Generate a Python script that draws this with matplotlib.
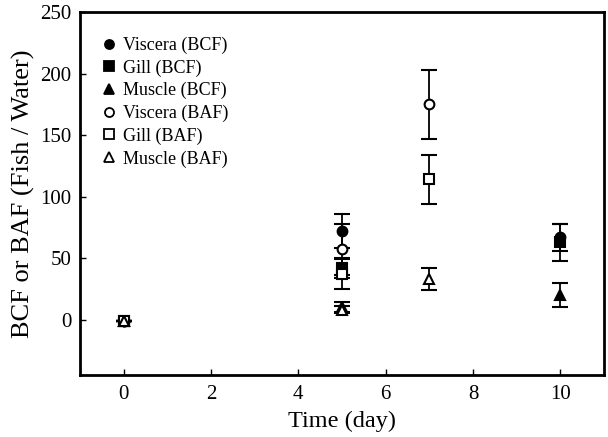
import matplotlib
matplotlib.use("Agg")
import matplotlib.pyplot as plt
from matplotlib.lines import Line2D

plt.rcParams["font.family"] = ["Liberation Serif", "DejaVu Serif"]

days = [0, 5, 7, 10]

# series: mean values and symmetric errors (None where not sampled)
visc_bcf = [-1, 72, None, 67]
visc_bcf_err = [0, 14, None, 11]
gill_bcf = [-1, 42, None, 63]
gill_bcf_err = [0, 8, None, 15]
musc_bcf = [-1, 10, None, 20]
musc_bcf_err = [0, 4, None, 10]
visc_baf = [-1, 57, 175, None]
visc_baf_err = [0, 21, 28, None]
gill_baf = [-1, 37, 114, None]
gill_baf_err = [0, 12, 20, None]
musc_baf = [-1, 8, 33, None]
musc_baf_err = [0, 3, 9, None]

series = [
    ("Viscera (BCF)", visc_bcf, visc_bcf_err, "o", "black"),
    ("Gill (BCF)", gill_bcf, gill_bcf_err, "s", "black"),
    ("Muscle (BCF)", musc_bcf, musc_bcf_err, "^", "black"),
    ("Viscera (BAF)", visc_baf, visc_baf_err, "o", "white"),
    ("Gill (BAF)", gill_baf, gill_baf_err, "s", "white"),
    ("Muscle (BAF)", musc_baf, musc_baf_err, "^", "white"),
]

fig = plt.figure(figsize=(6.08, 4.37), dpi=100)
ax = fig.add_axes([0.1316, 0.1419, 0.8618, 0.8306])

handles = []
for label, vals, errs, mk, fc in series:
    xs = [d for d, v in zip(days, vals) if v is not None]
    ys = [v for v in vals if v is not None]
    es = [e for e in errs if e is not None]
    ax.errorbar(xs, ys, yerr=es, fmt=mk, color="black", mfc=fc, mec="black",
                ms=7, mew=1.5, ecolor="black", elinewidth=1.3, capsize=6,
                capthick=1.3, linestyle="none")
    handles.append(Line2D([], [], marker=mk, linestyle="none", mfc=fc,
                          mec="black", mew=1.3, ms=6.5, label=label))

ax.set_xlim(-1, 11)
ax.set_ylim(-45, 250)
ax.set_xticks([0, 2, 4, 6, 8, 10])
ax.set_yticks([0, 50, 100, 150, 200, 250])
ax.tick_params(direction="in", labelsize=15, length=4, width=1,
               top=False, right=False)
ax.tick_params(axis="x", pad=7)
ax.tick_params(axis="y", pad=6)
for sp in ax.spines.values():
    sp.set_linewidth(2)

ax.set_xlabel("Time (day)", fontsize=17.5, labelpad=5)
ax.set_ylabel("BCF or BAF (Fish / Water)", fontsize=19, labelpad=4)

ax.legend(handles=handles, loc="upper left", bbox_to_anchor=(0.007, 0.972),
          frameon=False, fontsize=13, handletextpad=0.2, labelspacing=0.3,
          handlelength=1.2, borderaxespad=0.4)

fig.savefig("out.png", dpi=100)
